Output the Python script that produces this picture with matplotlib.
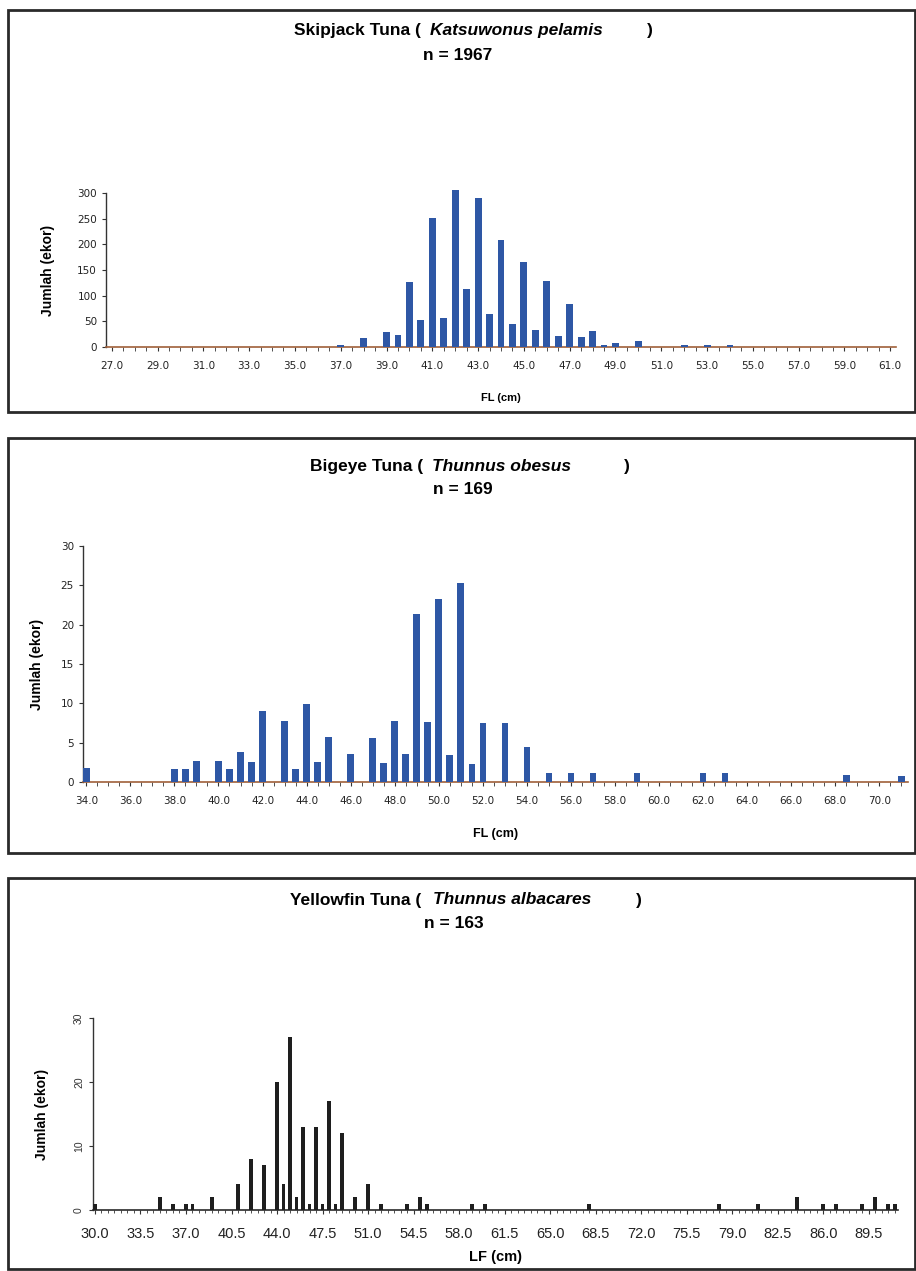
import numpy as np
import matplotlib
matplotlib.use("Agg")
import matplotlib.pyplot as plt
from matplotlib.patches import Rectangle

# Skipjack tuna, fork length classes (cm) with nonzero counts
skj_len = [37.0, 38.0, 39.0, 39.5, 40.0, 40.5, 41.0, 41.5, 42.0, 42.5, 43.0, 43.5,
           44.0, 44.5, 45.0, 45.5, 46.0, 46.5, 47.0, 47.5, 48.0, 48.5, 49.0, 50.0,
           52.0, 53.0, 54.0]
skj_n = [4, 18, 29, 24, 126, 53, 252, 57, 305, 113, 290, 65,
         209, 44, 166, 34, 129, 21, 83, 19, 31, 3, 8, 11,
         3, 3, 3]
skj_ticks = [27.0, 29.0, 31.0, 33.0, 35.0, 37.0, 39.0, 41.0, 43.0, 45.0,
             47.0, 49.0, 51.0, 53.0, 55.0, 57.0, 59.0, 61.0]

# Bigeye tuna
bet_len = [34.0, 38.0, 38.5, 39.0, 40.0, 40.5, 41.0, 41.5, 42.0, 43.0, 43.5, 44.0,
           44.5, 45.0, 46.0, 47.0, 47.5, 48.0, 48.5, 49.0, 49.5, 50.0, 50.5, 51.0,
           51.5, 52.0, 53.0, 54.0, 55.0, 56.0, 57.0, 59.0, 62.0, 63.0, 68.5, 71.0]
bet_n = [1.8, 1.7, 1.7, 2.7, 2.7, 1.7, 3.8, 2.6, 9.0, 7.8, 1.7, 9.9,
         2.5, 5.7, 3.6, 5.6, 2.4, 7.7, 3.5, 21.3, 7.6, 23.3, 3.4, 25.3,
         2.3, 7.5, 7.5, 4.4, 1.2, 1.2, 1.2, 1.1, 1.1, 1.1, 0.9, 0.8]
bet_ticks = [34.0, 36.0, 38.0, 40.0, 42.0, 44.0, 46.0, 48.0, 50.0, 52.0,
             54.0, 56.0, 58.0, 60.0, 62.0, 64.0, 66.0, 68.0, 70.0]

# Yellowfin tuna
yft_len = [30.0, 35.0, 36.0, 37.0, 37.5, 39.0, 41.0, 42.0, 43.0, 44.0, 44.5, 45.0,
           45.5, 46.0, 46.5, 47.0, 47.5, 48.0, 48.5, 49.0, 50.0, 51.0, 52.0, 54.0,
           55.0, 55.5, 59.0, 60.0, 68.0, 78.0, 81.0, 84.0, 86.0, 87.0, 89.0, 90.0,
           91.0, 91.5]
yft_n = [1, 2, 1, 1, 1, 2, 4, 8, 7, 20, 4, 27,
         2, 13, 1, 13, 1, 17, 1, 12, 2, 4, 1, 1,
         2, 1, 1, 1, 1, 1, 1, 2, 1, 1, 1, 2,
         1, 1]
yft_ticks = [30.0, 33.5, 37.0, 40.5, 44.0, 47.5, 51.0, 54.5, 58.0, 61.5,
             65.0, 68.5, 72.0, 75.5, 79.0, 82.5, 86.0, 89.5]

W, H = 916, 1271
fig = plt.figure(figsize=(W / 100, H / 100), dpi=100)
fig.patch.set_facecolor("white")

TICKFONT = ["DejaVu Sans"]
TITLEFONT = ["Liberation Sans", "DejaVu Sans"]
BOLDFONT = ["Liberation Sans", "DejaVu Sans"]


def px_axes(l, t, r, b):
    return fig.add_axes([l / W, 1 - b / H, (r - l) / W, (b - t) / H])


def frame(t, b):
    fig.add_artist(Rectangle((8 / W, 1 - b / H), 907 / W, (b - t) / H,
                             transform=fig.transFigure, fill=False,
                             edgecolor="#2a2a2a", linewidth=2.0))


def title(y, common, latin, paren_x, latin_x, close_x, n_text, ny, n_x):
    fs = 12.5
    fig.text(paren_x / W, 1 - y / H, common, family=TITLEFONT, weight="bold",
             fontsize=fs, va="center", ha="right")
    fig.text(latin_x / W, 1 - y / H, latin, family=TITLEFONT, weight="bold",
             style="italic", fontsize=fs, va="center", ha="left")
    fig.text(close_x / W, 1 - y / H, ")", family=TITLEFONT, weight="bold",
             fontsize=fs, va="center", ha="left")
    fig.text(n_x / W, 1 - ny / H, n_text, family=TITLEFONT, weight="bold",
             fontsize=fs, va="center", ha="center")


def style_axis(ax, xlim, ymax, yticks):
    ax.set_xlim(*xlim)
    ax.set_ylim(0, ymax)
    for s in ["top", "right"]:
        ax.spines[s].set_visible(False)
    ax.spines["left"].set_color("#333333")
    ax.spines["bottom"].set_color("#a0603a")
    ax.spines["left"].set_linewidth(1.0)
    ax.spines["bottom"].set_linewidth(1.2)
    ax.set_yticks(yticks)
    ax.tick_params(axis="x", which="both", length=3, color="#333333",
                   direction="out", pad=7)
    ax.tick_params(axis="y", length=3, color="#333333", direction="out")
    ax.set_facecolor("none")


# ---- panel 1 : skipjack ----
frame(10, 412)
title(31, "Skipjack Tuna (", "Katsuwonus pelamis", 421, 430, 647, "n = 1967", 55, 458)
ax1 = px_axes(106, 193, 896, 347)
ax1.bar(skj_len, skj_n, width=0.3, color="#2e57a5", clip_on=False, zorder=3)
style_axis(ax1, (26.75, 61.25), 300, [0, 50, 100, 150, 200, 250, 300])
ax1.set_xticks(np.arange(27.0, 61.01, 0.5), minor=True)
ax1.set_xticks(skj_ticks)
ax1.set_xticklabels([f"{v:.1f}" for v in skj_ticks], family=TICKFONT, fontsize=7.5, color="#222222")
ax1.set_yticklabels([str(v) for v in [0, 50, 100, 150, 200, 250, 300]],
                    family=TICKFONT, fontsize=7.5, color="#222222")
ax1.set_xlabel("FL (cm)", family=BOLDFONT, weight="bold", fontsize=8, labelpad=16)
ax1.set_ylabel("Jumlah (ekor)", family=BOLDFONT, weight="bold", fontsize=10, labelpad=16)

# ---- panel 2 : bigeye ----
frame(438, 853)
title(466, "Bigeye Tuna (", "Thunnus obesus", 423, 432, 624, "n = 169", 489, 463)
ax2 = px_axes(83, 546, 908, 782)
ax2.bar(bet_len, bet_n, width=0.3, color="#2e57a5", zorder=3)
style_axis(ax2, (33.85, 71.3), 30, [0, 5, 10, 15, 20, 25, 30])
ax2.set_xticks(np.arange(34.0, 71.01, 0.5), minor=True)
ax2.set_xticks(bet_ticks)
ax2.set_xticklabels([f"{v:.1f}" for v in bet_ticks], family=TICKFONT, fontsize=7.5, color="#222222")
ax2.set_yticklabels([str(v) for v in [0, 5, 10, 15, 20, 25, 30]],
                    family=TICKFONT, fontsize=7.5, color="#222222")
ax2.set_xlabel("FL (cm)", family=BOLDFONT, weight="bold", fontsize=9, labelpad=16)
ax2.set_ylabel("Jumlah (ekor)", family=BOLDFONT, weight="bold", fontsize=10, labelpad=12)

# ---- panel 3 : yellowfin ----
frame(878, 1269)
title(900, "Yellowfin Tuna (", "Thunnus albacares", 421, 433, 636, "n = 163", 924, 454)
ax3 = px_axes(93, 1018, 898, 1210)
ax3.bar(yft_len, yft_n, width=0.3, color="#1e1e1e", zorder=3)
style_axis(ax3, (29.85, 91.75), 30, [0, 10, 20, 30])
ax3.spines["bottom"].set_color("#2a2a2a")
ax3.set_xticks(np.arange(30.0, 91.51, 0.5), minor=True)
ax3.set_xticks(yft_ticks)
ax3.tick_params(axis="x", which="minor", length=2.5)
ax3.tick_params(axis="x", pad=9)
ax3.set_xticklabels([f"{v:.1f}" for v in yft_ticks], family=["Liberation Sans"],
                    fontsize=10.5, color="#222222")
ax3.set_yticklabels(["0", "10", "20", "30"], family=["Liberation Sans"], fontsize=7.5,
                    rotation=90, va="center", color="#333333")
ax3.set_xlabel("LF (cm)", family=BOLDFONT, weight="bold", fontsize=10.5, labelpad=7)
ax3.set_ylabel("Jumlah (ekor)", family=BOLDFONT, weight="bold", fontsize=10, labelpad=18)

fig.savefig("out.png", dpi=100)
